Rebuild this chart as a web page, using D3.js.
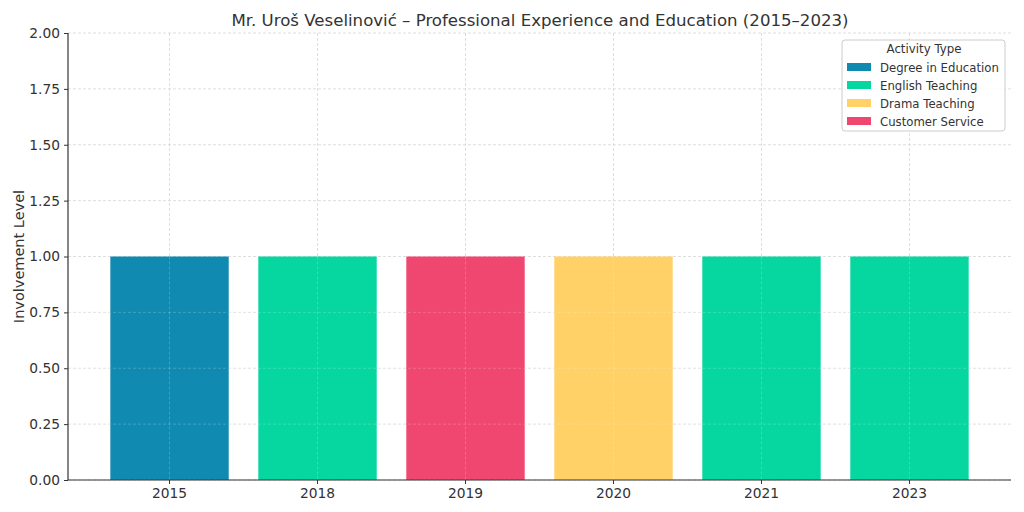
<!DOCTYPE html>
<html><head><meta charset="utf-8">
<script src="https://cdn.jsdelivr.net/npm/d3@7"></script>
<style>body{margin:0;background:#fff}svg{display:block}text{font-family:"DejaVu Sans",sans-serif;fill:#333}</style>
</head><body><svg id="c" width="1024" height="512"></svg>
<script>
const years = ["2015","2018","2019","2020","2021","2023"];
const activities = ["Degree in Education","English Teaching","Customer Service","Drama Teaching","English Teaching","English Teaching"];
const values = [1,1,1,1,1,1];
const legendItems = ["Degree in Education","English Teaching","Drama Teaching","Customer Service"];
const legendColors = ["#118ab2","#06d6a0","#ffd166","#ef476f"];
const yTicks = [0,0.25,0.5,0.75,1.0,1.25,1.5,1.75,2.0];

const svg = d3.select("#c");
const m = {l:68, r:1011, t:33, b:480};
const color = d3.scaleOrdinal().domain(legendItems).range(legendColors);
const x = d3.scaleBand().domain(years).range([m.l, m.r]).paddingInner(0.2).paddingOuter(0.286);
const y = d3.scaleLinear().domain([0,2]).range([m.b, m.t]);

// grid
const g = svg.append("g");
g.selectAll(".hg").data(yTicks).join("line")
 .attr("x1", m.l).attr("x2", m.r).attr("y1", d=>y(d)).attr("y2", d=>y(d))
 .attr("stroke","#d6d6d6").attr("stroke-width",0.8).attr("stroke-dasharray","3,2");
g.selectAll(".vg").data(years).join("line")
 .attr("x1", d=>x(d)+x.bandwidth()/2).attr("x2", d=>x(d)+x.bandwidth()/2).attr("y1", m.t).attr("y2", m.b)
 .attr("stroke","#d6d6d6").attr("stroke-width",0.8).attr("stroke-dasharray","3,2");

// bars
svg.selectAll(".bar").data(years).join("rect")
 .attr("x", d=>x(d)).attr("width", x.bandwidth())
 .attr("y", (d,i)=>y(values[i])).attr("height", (d,i)=>y(0)-y(values[i]))
 .attr("fill", (d,i)=>color(activities[i]));

svg.selectAll(".vg2").data(years).join("line")
 .attr("x1", d=>x(d)+x.bandwidth()/2).attr("x2", d=>x(d)+x.bandwidth()/2).attr("y1", y(1)).attr("y2", m.b)
 .attr("stroke","#ffffff").attr("stroke-opacity",0.25).attr("stroke-width",0.8).attr("stroke-dasharray","3,2");
svg.selectAll(".hg2").data(yTicks.filter(v=>v<1)).join("line")
 .attr("x1", m.l).attr("x2", m.r).attr("y1", d=>y(d)).attr("y2", d=>y(d))
 .attr("stroke","#ffffff").attr("stroke-opacity",0.25).attr("stroke-width",0.8).attr("stroke-dasharray","3,2");

// axes
const ya = svg.append("g").attr("transform",`translate(${m.l},0)`)
 .call(d3.axisLeft(y).tickValues(yTicks).tickFormat(d3.format(".2f")).tickSize(4).tickPadding(4));
ya.select(".domain").attr("stroke","#333").attr("stroke-width",1.2).attr("d",`M0,${m.t}V${m.b}`);
ya.selectAll(".tick line").attr("stroke","#333");
ya.selectAll("text").style("font-size","13.8px").style("font-family","DejaVu Sans").attr("fill","#333");

const xa = svg.append("g").attr("transform",`translate(0,${m.b})`)
 .call(d3.axisBottom(x).tickSize(4).tickPadding(4));
xa.select(".domain").attr("stroke","#333").attr("stroke-width",1.2).attr("d",`M${m.l},0H${m.r}`);
xa.selectAll(".tick line").attr("stroke","#333");
xa.selectAll("text").style("font-size","13.8px").style("font-family","DejaVu Sans").attr("fill","#333");

// title & labels
svg.append("text").attr("x",(m.l+m.r)/2 + 0.5).attr("y",26).attr("text-anchor","middle")
 .style("font-size","16.6px").text("Mr. Uroš Veselinović – Professional Experience and Education (2015–2023)");
svg.append("text").attr("transform",`translate(24,${(m.t+m.b)/2}) rotate(-90)`).attr("text-anchor","middle")
 .style("font-size","14.5px").text("Involvement Level");

// legend
const lg = svg.append("g").attr("transform","translate(842,40)");
lg.append("rect").attr("width",163).attr("height",91).attr("rx",3)
 .attr("fill","#fff").attr("fill-opacity",0.85).attr("stroke","#cccccc");
lg.append("text").attr("x",82).attr("y",13).attr("text-anchor","middle").style("font-size","11.8px").text("Activity Type");
const li = lg.selectAll(".li").data(legendItems).join("g").attr("transform",(d,i)=>`translate(5,${27+i*18})`);
li.append("rect").attr("width",24).attr("height",8).attr("y",-4).attr("fill",d=>color(d));
li.append("text").attr("x",33).attr("y",4.5).style("font-size","11.7px").text(d=>d);
</script></body></html>
